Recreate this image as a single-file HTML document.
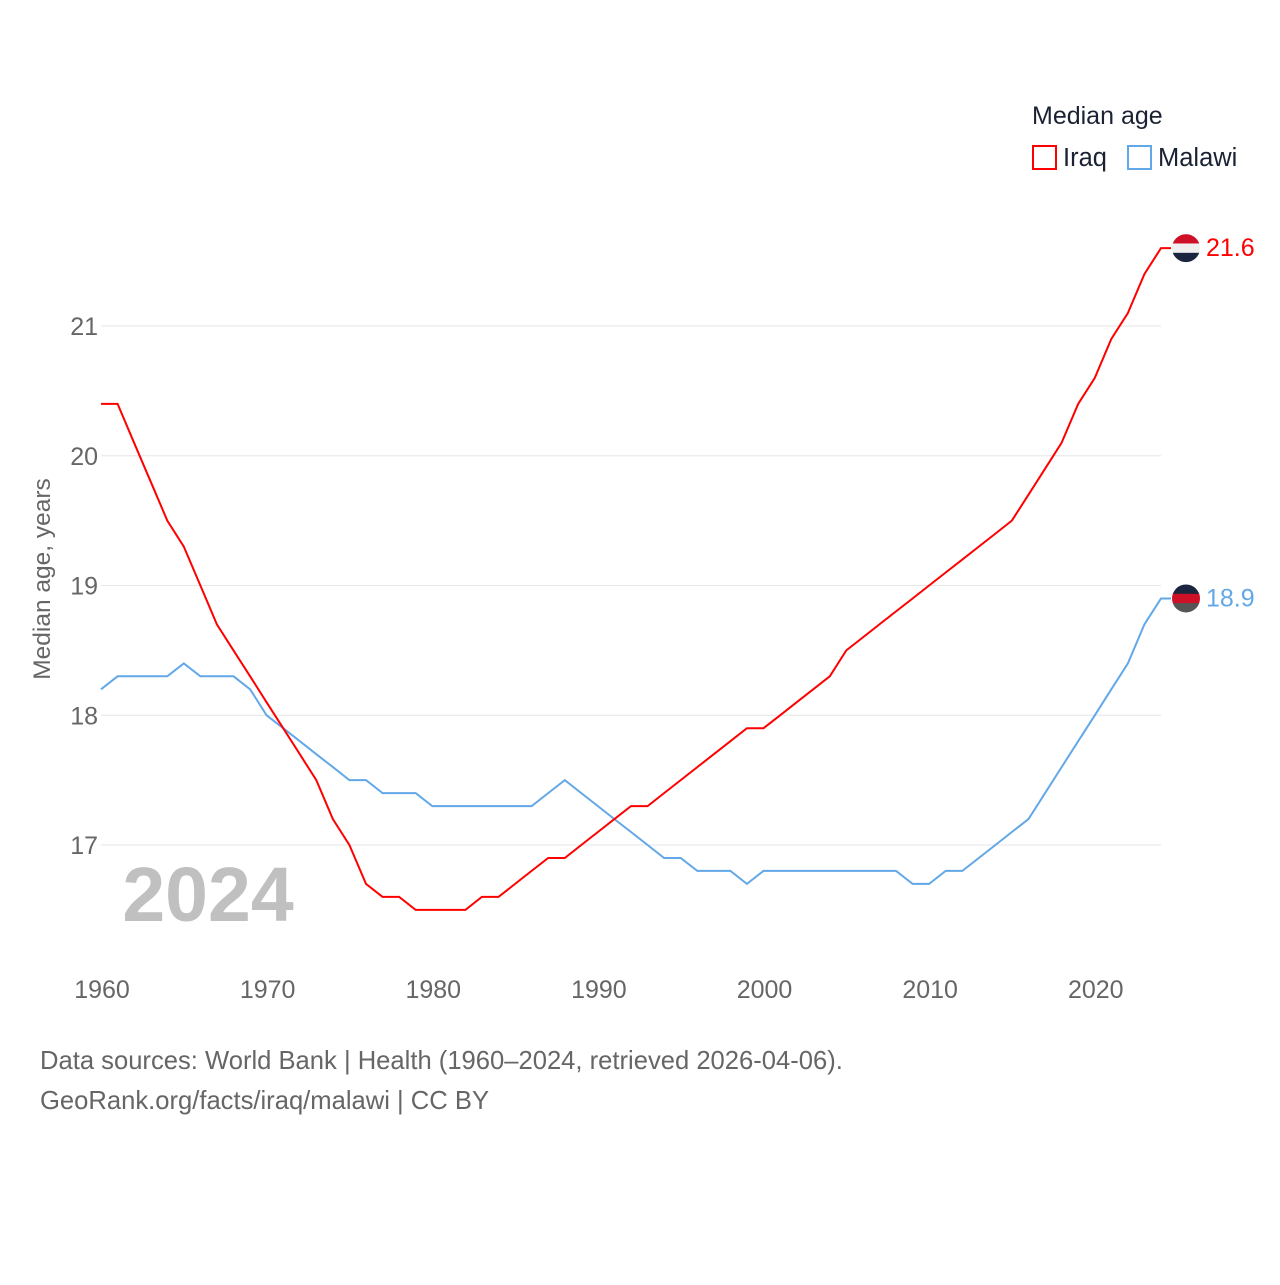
<!DOCTYPE html>
<html><head><meta charset="utf-8"><style>
body{margin:0;background:#fff;font-family:"Liberation Sans",sans-serif}
svg text{font-family:"Liberation Sans",sans-serif}
</style></head><body>
<svg width="1280" height="1280" viewBox="0 0 1280 1280">
<g id="grid"></g>
<g id="lines"></g>
<text x="1032" y="124" font-size="25" fill="#1a2233">Median age</text>
<g><rect x="1033" y="146" width="23" height="23" fill="none" stroke="#ff0000" stroke-width="2"/><text x="1063" y="166" font-size="25.5" fill="#1a2233">Iraq</text></g>
<g><rect x="1128" y="146" width="23" height="23" fill="none" stroke="#62a8e8" stroke-width="2"/><text x="1158" y="166" font-size="25.5" fill="#1a2233">Malawi</text></g>
<text transform="translate(50,579) rotate(-90)" text-anchor="middle" font-size="24.5" fill="#666">Median age, years</text>
<text x="208" y="921" text-anchor="middle" font-size="77" font-weight="bold" fill="#c0c0c0">2024</text>
<text x="40" y="1069" font-size="25.6" fill="#666">Data sources: World Bank | Health (1960–2024, retrieved 2026-04-06).</text>
<text x="40" y="1109" font-size="25.6" fill="#666">GeoRank.org/facts/iraq/malawi | CC BY</text>
</svg>
<script>
const years=[];for(let y=1960;y<=2024;y++)years.push(y);
const iraq=[20.4,20.4,20.1,19.8,19.5,19.3,19.0,18.7,18.5,18.3,18.1,17.9,17.7,17.5,17.2,17.0,16.7,16.6,16.6,16.5,16.5,16.5,16.5,16.6,16.6,16.7,16.8,16.9,16.9,17.0,17.1,17.2,17.3,17.3,17.4,17.5,17.6,17.7,17.8,17.9,17.9,18.0,18.1,18.2,18.3,18.5,18.6,18.7,18.8,18.9,19.0,19.1,19.2,19.3,19.4,19.5,19.7,19.9,20.1,20.4,20.6,20.9,21.1,21.4,21.6];
const malawi=[18.2,18.3,18.3,18.3,18.3,18.4,18.3,18.3,18.3,18.2,18.0,17.9,17.8,17.7,17.6,17.5,17.5,17.4,17.4,17.4,17.3,17.3,17.3,17.3,17.3,17.3,17.3,17.4,17.5,17.4,17.3,17.2,17.1,17.0,16.9,16.9,16.8,16.8,16.8,16.7,16.8,16.8,16.8,16.8,16.8,16.8,16.8,16.8,16.8,16.7,16.7,16.8,16.8,16.9,17.0,17.1,17.2,17.4,17.6,17.8,18.0,18.2,18.4,18.7,18.9];
const yTicks=[17,18,19,20,21];
const xTicks=[1960,1970,1980,1990,2000,2010,2020];
const X=y=>101+(y-1960)*1060/64;
const Y=v=>845-(v-17)*129.75;
const NS='http://www.w3.org/2000/svg';
const grid=document.getElementById('grid'),lines=document.getElementById('lines');
function mk(t,a,p){const e=document.createElementNS(NS,t);for(const k in a)e.setAttribute(k,a[k]);p.appendChild(e);return e;}
yTicks.forEach(v=>{
 const l=mk('line',{x1:101,x2:1161,y1:Y(v),y2:Y(v),stroke:'#e6e6e6','stroke-width':1},grid);
 
 
 const t=mk('text',{x:98,y:Y(v)+9,'text-anchor':'end','font-size':25,fill:'#666'},grid);t.textContent=v;
 
 
});
xTicks.forEach(v=>{
 const t=mk('text',{x:X(v)+1,y:998,'text-anchor':'middle','font-size':25,fill:'#666'},grid);t.textContent=v;
 
 
});
function series(vals,color,name,stripes){
 let d=vals.map((v,i)=>(i?'L':'M')+X(years[i]).toFixed(1)+' '+Y(v).toFixed(1)).join(' ');
 d+=' L'+(X(2024)+10)+' '+Y(vals[vals.length-1]).toFixed(1);
 const p=mk('path',{d:d,fill:'none',stroke:color,'stroke-width':2},lines);
 
 
 const ly=Y(vals[vals.length-1]);
 const cp=mk('clipPath',{id:'cp-'+name},lines);
 mk('circle',{cx:1186,cy:ly,r:14},cp);
 const g=mk('g',{'clip-path':'url(#cp-'+name+')'},lines);
 
 
 stripes.forEach((c,i)=>mk('rect',{x:1172,y:ly-14+i*28/3,width:28,height:28/3+0.5,fill:c},g));
 const t=mk('text',{x:1206,y:ly+8,'font-size':25,fill:color},lines);t.textContent=vals[vals.length-1].toFixed(1);
 
 
}
series(malawi,'#62a8e8','malawi',['#1a2540','#ce1126','#555']);
series(iraq,'#ff0000','iraq',['#ce1126','#f0f0f0','#1a2540']);
</script>
</body></html>
